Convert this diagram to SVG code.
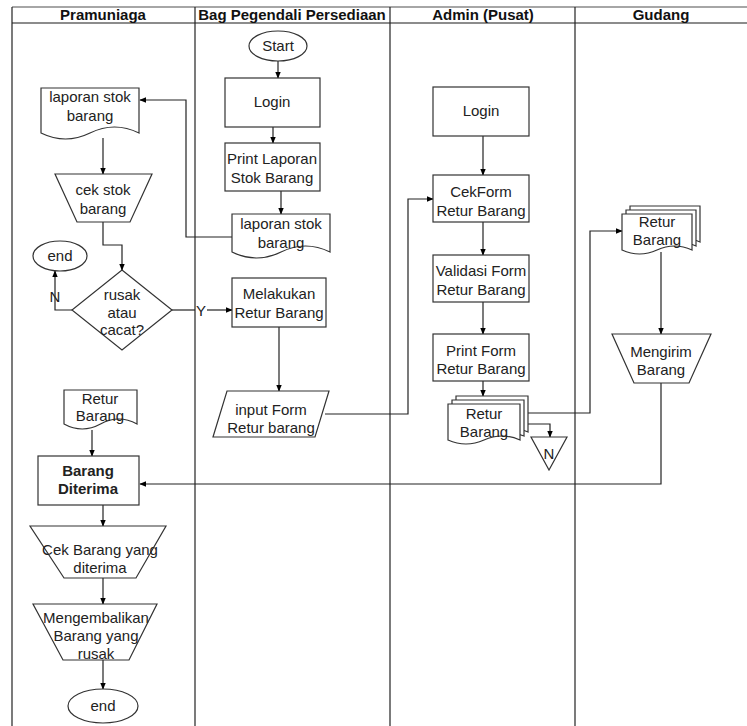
<svg xmlns="http://www.w3.org/2000/svg" width="747" height="726" viewBox="0 0 747 726">
<defs>
<marker id="ah" viewBox="0 0 10 10" refX="9" refY="5" markerWidth="7" markerHeight="7" orient="auto" markerUnits="userSpaceOnUse">
<path d="M0,1 L10,5 L0,9 Z" fill="#000"/>
</marker>
<style>
.s{fill:#fff;stroke:#333;stroke-width:1.2}
.t{font-family:"Liberation Sans",Arial,sans-serif;font-size:15px;fill:#222;text-anchor:middle}
.b{font-weight:bold}
.h{font-family:"Liberation Sans",Arial,sans-serif;font-size:15px;font-weight:bold;fill:#111;text-anchor:middle}
.c{fill:none;stroke:#222;stroke-width:1.2;marker-end:url(#ah)}
.n{fill:none;stroke:#222;stroke-width:1.2}
.g{stroke:#222;stroke-width:1.2}
</style>
</defs>
<rect width="747" height="726" fill="#fff"/>
<g id="lanes">
<line x1="12" y1="7" x2="747" y2="7" stroke="#888" stroke-width="1.5"/>
<line x1="12" y1="23" x2="747" y2="23" stroke="#666" stroke-width="1.5"/>
<line x1="12" y1="7" x2="12" y2="726" class="g"/>
<line x1="195" y1="7" x2="195" y2="726" class="g"/>
<line x1="390" y1="7" x2="390" y2="726" class="g"/>
<line x1="575" y1="7" x2="575" y2="726" class="g"/>
<text class="h" x="103" y="20">Pramuniaga</text>
<text class="h" x="292" y="20">Bag Pegendali Persediaan</text>
<text class="h" x="483" y="20">Admin (Pusat)</text>
<text class="h" x="661" y="20">Gudang</text>
</g>
<g id="connectors">
<path class="c" d="M233,237 H186 V100 H140"/>
<path class="c" d="M103,138 V174"/>
<path class="c" d="M103,222 V245 H122 V270"/>
<path class="c" d="M72,310 H55 V271"/>
<path class="n" d="M172,310 H195"/>
<path class="c" d="M207,310 H232"/>
<path class="c" d="M278,61 V78"/>
<path class="c" d="M273,127 V143"/>
<path class="c" d="M281,191 V214"/>
<path class="c" d="M279,327 V391"/>
<path class="c" d="M325,414 H408 V199 H433"/>
<path class="c" d="M483,136 V175"/>
<path class="c" d="M483,222 V255"/>
<path class="c" d="M483,302 V334"/>
<path class="c" d="M483,381 V396"/>
<path class="c" d="M528,413 H590 V231 H622"/>
<path class="c" d="M520,424 H550 V437"/>
<path class="c" d="M661,252 V334"/>
<path class="c" d="M661,383 V484 H140"/>
<path class="c" d="M92,430 V456"/>
<path class="c" d="M103,505 V526"/>
<path class="c" d="M103,578 V604"/>
<path class="c" d="M103,660 V689"/>
</g>
<g id="doc-laporan1">
<path class="s" d="M41,88 H139 V133 Q114.5,121 90,133 T41,133 Z"/>
<text class="t" x="90" y="102">laporan stok</text>
<text class="t" x="90" y="121">barang</text>
</g>
<g id="cek-stok">
<path class="s" d="M55,174 H152 L130,222 H77 Z"/>
<text class="t" x="103" y="195">cek stok</text>
<text class="t" x="103" y="214">barang</text>
</g>
<g id="end1">
<ellipse class="s" cx="60" cy="256" rx="27" ry="15"/>
<text class="t" x="60" y="261">end</text>
</g>
<g id="decision">
<path class="s" d="M122,270 L172,310 L122,350 L72,310 Z"/>
<text class="t" x="122" y="300">rusak</text>
<text class="t" x="122" y="318">atau</text>
<text class="t" x="122" y="335">cacat?</text>
</g>
<text class="t" x="55" y="302">N</text>
<text class="t" x="201" y="316">Y</text>
<g id="start">
<ellipse class="s" cx="278" cy="46" rx="29" ry="15"/>
<text class="t" x="278" y="51">Start</text>
</g>
<g id="login1">
<rect class="s" x="225" y="78" width="95" height="49"/>
<text class="t" x="272" y="107">Login</text>
</g>
<g id="print-laporan">
<rect class="s" x="225" y="143" width="95" height="48"/>
<text class="t" x="272" y="164">Print Laporan</text>
<text class="t" x="272" y="183">Stok Barang</text>
</g>
<g id="doc-laporan2">
<path class="s" d="M232,214 H330 V252 Q305.5,240 281,252 T232,252 Z"/>
<text class="t" x="281" y="229">laporan stok</text>
<text class="t" x="281" y="248">barang</text>
</g>
<g id="melakukan">
<rect class="s" x="232" y="278" width="94" height="49"/>
<text class="t" x="279" y="299">Melakukan</text>
<text class="t" x="279" y="318">Retur Barang</text>
</g>
<g id="input-form">
<path class="s" d="M227,391 H329 L315,437 H213 Z"/>
<text class="t" x="271" y="415">input  Form</text>
<text class="t" x="271" y="433">Retur barang</text>
</g>
<g id="login2">
<rect class="s" x="433" y="87" width="96" height="49"/>
<text class="t" x="481" y="116">Login</text>
</g>
<g id="cekform">
<rect class="s" x="433" y="175" width="96" height="47"/>
<text class="t" x="481" y="197">CekForm</text>
<text class="t" x="481" y="216">Retur Barang</text>
</g>
<g id="validasi">
<rect class="s" x="433" y="255" width="96" height="47"/>
<text class="t" x="481" y="276">Validasi Form</text>
<text class="t" x="481" y="295">Retur Barang</text>
</g>
<g id="print-form">
<rect class="s" x="433" y="334" width="96" height="47"/>
<text class="t" x="481" y="356">Print  Form</text>
<text class="t" x="481" y="374">Retur Barang</text>
</g>
<g id="multidoc-admin">
<path class="s" d="M456,396 H528 V432 Q510,424 492,432 T456,432 Z"/>
<path class="s" d="M452,400 H524 V436 Q506,428 488,436 T452,436 Z"/>
<path class="s" d="M448,404 H520 V440 Q502,432 484,440 T448,440 Z"/>
<text class="t" x="484" y="419">Retur</text>
<text class="t" x="484" y="437">Barang</text>
</g>
<g id="offpage-n">
<path class="s" d="M531,437 H567 L549,470 Z"/>
<text class="t" x="549" y="459">N</text>
</g>
<g id="multidoc-gudang">
<path class="s" d="M630,206 H700 V242 Q682.5,234 665,242 T630,242 Z"/>
<path class="s" d="M626,210 H696 V246 Q678.5,238 661,246 T626,246 Z"/>
<path class="s" d="M622,214 H692 V250 Q674.5,242 657,250 T622,250 Z"/>
<text class="t" x="657" y="227">Retur</text>
<text class="t" x="657" y="245">Barang</text>
</g>
<g id="mengirim">
<path class="s" d="M612,334 H711 L689,383 H634 Z"/>
<text class="t" x="661" y="357">Mengirim</text>
<text class="t" x="661" y="375">Barang</text>
</g>
<g id="doc-retur">
<path class="s" d="M64,390 H137 V424 Q118.75,414 100.5,424 T64,424 Z"/>
<text class="t" x="100" y="404">Retur</text>
<text class="t" x="100" y="421">Barang</text>
</g>
<g id="barang-diterima">
<rect class="s" x="38" y="456" width="101" height="49" stroke-width="1.6"/>
<text class="t b" x="88" y="476">Barang</text>
<text class="t b" x="88" y="494">Diterima</text>
</g>
<g id="cek-barang">
<path class="s" d="M30,526 H166 L136,578 H64 Z"/>
<text class="t" x="100" y="555">Cek Barang yang</text>
<text class="t" x="100" y="573">diterima</text>
</g>
<g id="mengembalikan">
<path class="s" d="M33,604 H157 L129,660 H63 Z"/>
<text class="t" x="96" y="623">Mengembalikan</text>
<text class="t" x="96" y="641">Barang yang</text>
<text class="t" x="96" y="659">rusak</text>
</g>
<g id="end2">
<ellipse class="s" cx="103" cy="706" rx="35" ry="17"/>
<text class="t" x="103" y="711">end</text>
</g>
</svg>
